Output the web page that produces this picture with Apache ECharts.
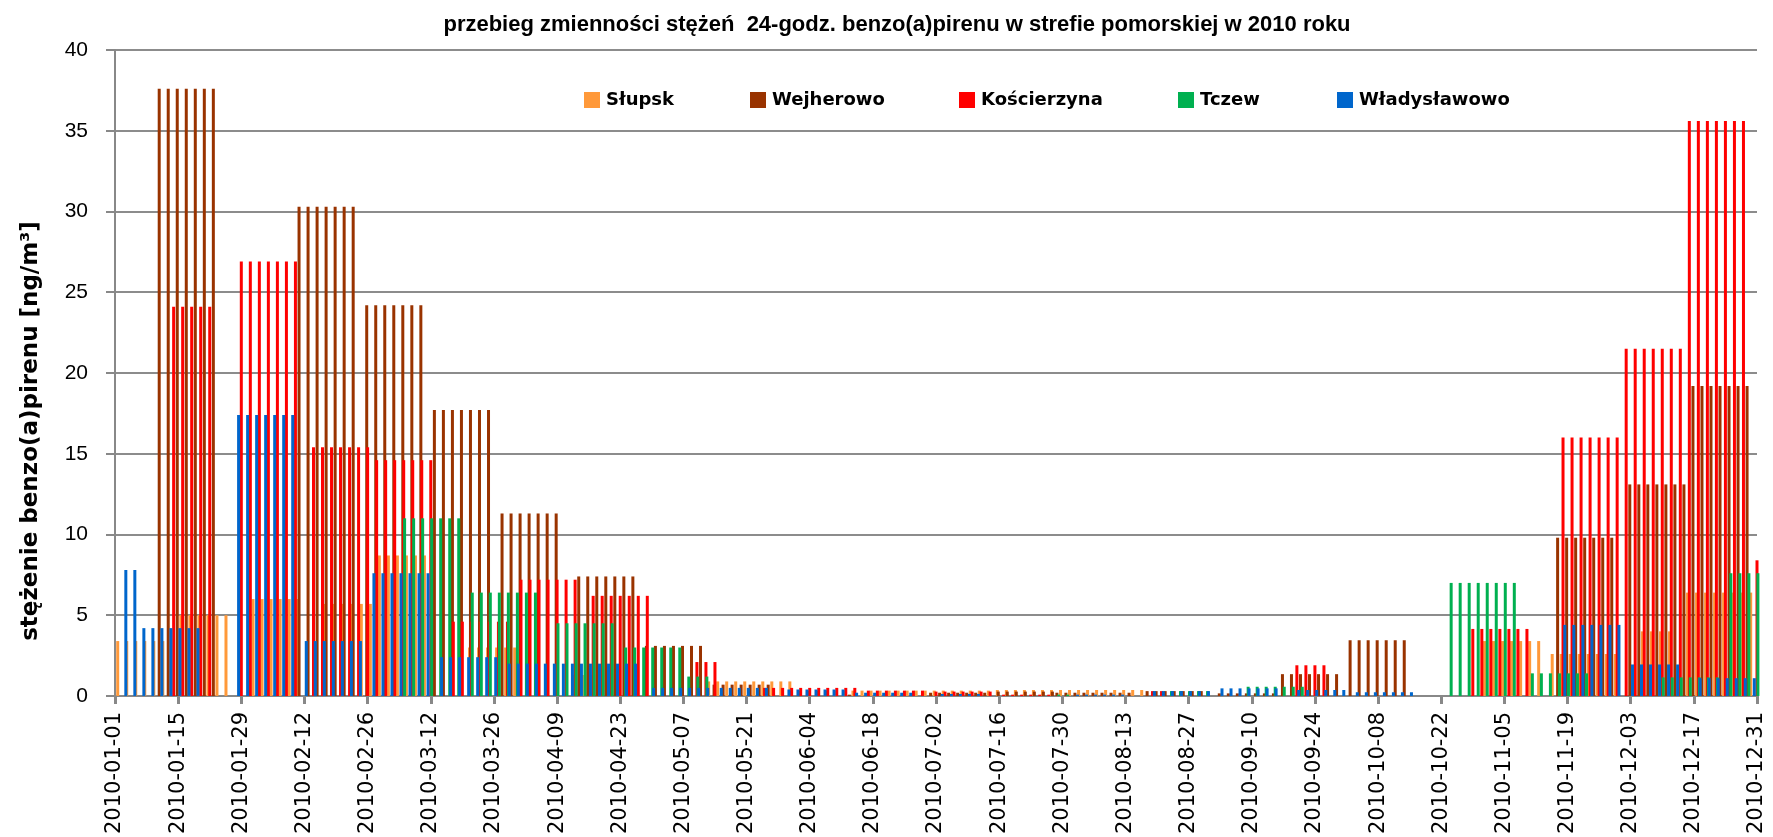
<!DOCTYPE html>
<html>
<head>
<meta charset="utf-8">
<title>benzo(a)piren 2010</title>
<script src="https://cdn.jsdelivr.net/npm/echarts/dist/echarts.min.js"></script>
<style>
    html, body { margin: 0; padding: 0; background: #fff; }
    #chart { width: 1773px; height: 837px; }
</style>
</head>
<body>
<div id="chart"></div>
<script>
// okresy pomiarowe: [od, do, stezenie ng/m3], slupki co drugi dzien
let slupsk = [
    ['01-02', '01-12', 3.4], ['01-16', '01-26', 5.0], ['02-01', '02-11', 6.0],
    ['02-17', '02-27', 5.7], ['03-01', '03-15', 8.7], ['03-17', '03-31', 3.0],
    ['04-13', '04-27', 1.3], ['05-05', '05-31', 0.9], ['06-08', '07-14', 0.33],
    ['07-16', '08-17', 0.37], ['11-01', '11-13', 3.4], ['11-16', '11-30', 2.6],
    ['12-06', '12-12', 4.0], ['12-16', '12-30', 6.4]
];
let wejherowo = [
    ['01-11', '01-23', 37.6], ['02-11', '02-23', 30.3], ['02-26', '03-10', 24.2],
    ['03-13', '03-25', 17.7], ['03-28', '04-09', 11.3], ['04-14', '04-26', 7.4],
    ['04-29', '05-11', 3.1], ['05-14', '05-26', 0.7], ['05-31', '06-08', 0.33],
    ['06-13', '06-13', 0.08], ['07-01', '07-13', 0.2], ['07-16', '07-28', 0.27],
    ['07-29', '08-14', 0.2], ['08-18', '08-30', 0.3], ['09-03', '09-15', 0.16],
    ['09-17', '09-29', 1.35], ['10-02', '10-14', 3.45], ['11-17', '11-29', 9.8],
    ['12-03', '12-15', 13.1], ['12-17', '12-29', 19.2]
];
let koscierzyna = [
    ['01-14', '01-22', 24.1], ['01-29', '02-10', 26.9], ['02-14', '02-26', 15.4],
    ['02-28', '03-12', 14.6], ['03-17', '03-29', 4.6], ['04-01', '04-13', 7.2],
    ['04-17', '04-29', 6.2], ['05-10', '05-14', 2.1], ['05-25', '06-14', 0.5],
    ['06-17', '06-29', 0.33], ['07-02', '07-14', 0.27], ['07-17', '07-27', 0.08],
    ['08-19', '08-21', 0.3], ['09-20', '09-26', 1.9], ['10-29', '11-10', 4.15],
    ['11-18', '11-30', 16.0], ['12-02', '12-14', 21.5], ['12-16', '12-28', 35.6],
    ['12-31', '12-31', 8.4]
];
let tczew = [
    ['03-06', '03-18', 11.0], ['03-21', '04-04', 6.4], ['04-09', '04-21', 4.5],
    ['04-24', '05-06', 3.0], ['05-08', '05-12', 1.2], ['07-29', '07-31', 0.08],
    ['08-23', '08-31', 0.3], ['09-09', '09-21', 0.57], ['10-24', '11-07', 7.0],
    ['11-11', '11-23', 1.4], ['12-10', '12-22', 1.15], ['12-25', '12-31', 7.6]
];
let wladyslawowo = [
    ['01-03', '01-05', 7.8], ['01-07', '01-19', 4.2], ['01-28', '02-09', 17.4],
    ['02-12', '02-24', 3.4], ['02-27', '03-11', 7.6], ['03-14', '03-26', 2.4],
    ['03-29', '04-26', 2.0], ['04-30', '05-12', 0.5], ['05-15', '05-25', 0.5],
    ['05-30', '06-11', 0.4], ['06-14', '06-26', 0.2], ['07-03', '07-11', 0.12],
    ['08-02', '08-12', 0.08], ['08-19', '08-31', 0.3], ['09-03', '09-15', 0.47],
    ['09-20', '09-30', 0.37], ['10-03', '10-15', 0.23], ['11-18', '11-30', 4.4],
    ['12-03', '12-13', 1.95], ['12-18', '12-30', 1.1]
];

let stations = ['Słupsk', 'Wejherowo', 'Kościerzyna', 'Tczew', 'Władysławowo'];
let stationData = [slupsk, wejherowo, koscierzyna, tczew, wladyslawowo];
let colors = ['#ff993a', '#993300', '#ff0000', '#00b050', '#0066cc'];
let legendLeft = [584, 750, 959, 1178, 1337];

// os X - kazdy dzien 2010 roku
let year = 2010;
let dayMs = 86400000;
let days = [];
for (let t = Date.UTC(year, 0, 1); t <= Date.UTC(year, 11, 31); t += dayMs) {
    days.push(new Date(t).toISOString().slice(0, 10));
}

function dayIndex(md) {
    let p = md.split('-');
    return Math.round((Date.UTC(year, +p[0] - 1, +p[1]) - Date.UTC(year, 0, 1)) / dayMs);
}

function toDaily(periods) {
    let arr = days.map(function () { return null; });
    periods.forEach(function (p) {
        for (let d = dayIndex(p[0]); d <= dayIndex(p[1]); d += 2) {
            arr[d] = p[2];
        }
    });
    return arr;
}

let chart = echarts.init(document.getElementById('chart'));

let series = stations.map(function (name, i) {
    return {
        name: name,
        type: 'bar',
        data: toDaily(stationData[i]),
        barWidth: 3,
        barGap: '-70%',
        itemStyle: { color: colors[i] },
        emphasis: { disabled: true }
    };
});

let legends = stations.map(function (name, i) {
    return {
        data: [name],
        left: legendLeft[i],
        top: 91,
        padding: 0,
        icon: 'rect',
        itemWidth: 16,
        itemHeight: 16,
        itemGap: 0,
        textStyle: {
            fontFamily: 'DejaVu Sans',
            fontWeight: 'bold',
            fontSize: 18,
            color: '#000',
            padding: [0, 0, 0, 1]
        }
    };
});

let option = {
    animation: false,
    color: colors,
    title: {
        text: 'przebieg zmienności stężeń  24-godz. benzo(a)pirenu w strefie pomorskiej w 2010 roku',
        left: 892,
        textAlign: 'center',
        top: 9,
        textStyle: {
            fontFamily: 'Liberation Sans',
            fontWeight: 'bold',
            fontSize: 22,
            color: '#000'
        }
    },
    legend: legends,
    grid: { left: 115, right: 16, top: 50, bottom: 138 },
    xAxis: {
        type: 'category',
        data: days,
        boundaryGap: false,
        axisLine: { lineStyle: { color: '#888', width: 2 } },
        axisTick: { interval: 13, length: 8, lineStyle: { color: '#888', width: 3 } },
        axisLabel: {
            interval: 13,
            rotate: 90,
            margin: 16,
            fontFamily: 'DejaVu Sans',
            fontSize: 21,
            color: '#000'
        },
        splitLine: { show: false }
    },
    yAxis: {
        type: 'value',
        min: 0,
        max: 40,
        interval: 5,
        axisLine: { show: true, lineStyle: { color: '#888', width: 2 } },
        axisTick: { show: true, length: 9, lineStyle: { color: '#888', width: 2 } },
        axisLabel: {
            margin: 27,
            fontFamily: 'Liberation Sans',
            fontSize: 21,
            color: '#000'
        },
        splitLine: { lineStyle: { color: '#8c8c8c', width: 2 } }
    },
    graphic: [{
        type: 'text',
        x: 31,
        y: 431,
        rotation: Math.PI / 2,
        style: {
            text: 'stężenie benzo(a)pirenu [ng/m³]',
            fontFamily: 'DejaVu Sans',
            fontWeight: 'bold',
            fontSize: 23,
            fill: '#000',
            textAlign: 'center',
            textVerticalAlign: 'middle'
        }
    }],
    series: series
};

chart.setOption(option);
</script>
</body>
</html>
